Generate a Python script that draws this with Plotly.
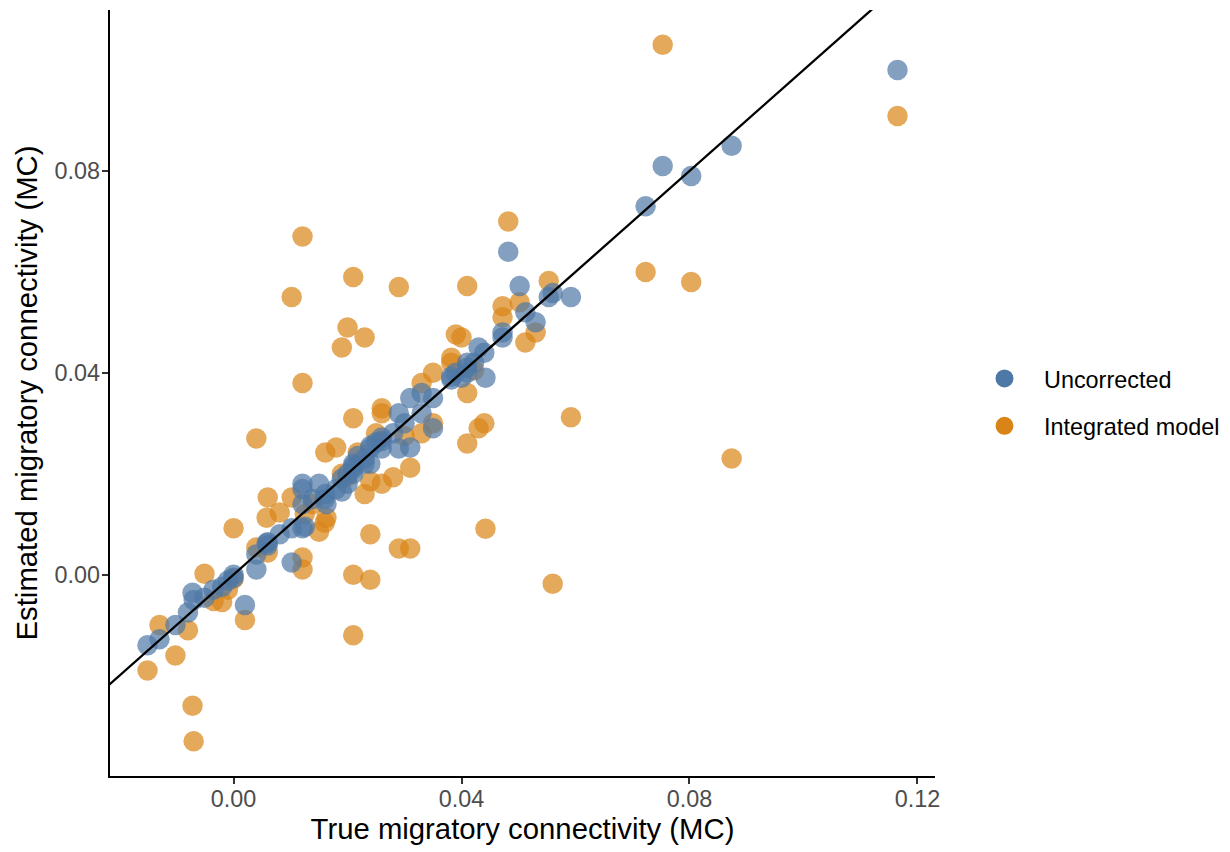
import plotly.graph_objects as go

# True migratory connectivity (x) shared by both estimates
true_mc = [
    -0.0151, -0.0130, -0.0102, -0.0080, -0.0072, -0.0070, -0.0051, -0.0035, -0.0020, -0.0010,
    0.0000, 0.0000, 0.0020, 0.0040, 0.0040, 0.0058, 0.0060, 0.0060, 0.0081, 0.0102,
    0.0102, 0.0121, 0.0121, 0.0121, 0.0121, 0.0125, 0.0139, 0.0150, 0.0160, 0.0161,
    0.0163, 0.0180, 0.0190, 0.0190, 0.0200, 0.0200, 0.0210, 0.0210, 0.0210, 0.0210,
    0.0218, 0.0230, 0.0230, 0.0240, 0.0240, 0.0240, 0.0250, 0.0260, 0.0260, 0.0260,
    0.0280, 0.0290, 0.0290, 0.0300, 0.0310, 0.0310, 0.0330, 0.0330, 0.0350, 0.0350,
    0.0382, 0.0382, 0.0390, 0.0400, 0.0410, 0.0410, 0.0410, 0.0422, 0.0430, 0.0440,
    0.0442, 0.0472, 0.0472, 0.0482, 0.0502, 0.0512, 0.0530, 0.0553, 0.0560, 0.0592,
    0.0723, 0.0753, 0.0803, 0.0874, 0.1165,
]

uncorrected = [
    -0.0140, -0.0128, -0.0100, -0.0075, -0.0036, -0.0050, -0.0046, -0.0030, -0.0024, -0.0012,
    -0.0006, 0.0000, -0.0060, 0.0010, 0.0040, 0.0062, 0.0064, 0.0058, 0.0080, 0.0024,
    0.0092, 0.0180, 0.0092, 0.0170, 0.0140, 0.0095, 0.0150, 0.0180, 0.0150, 0.0160,
    0.0140, 0.0170, 0.0190, 0.0165, 0.0180, 0.0200, 0.0210, 0.0220, 0.0200, 0.0215,
    0.0235, 0.0230, 0.0220, 0.0255, 0.0250, 0.0220, 0.0262, 0.0272, 0.0250, 0.0265,
    0.0280, 0.0320, 0.0250, 0.0300, 0.0350, 0.0252, 0.0360, 0.0320, 0.0290, 0.0350,
    0.0387, 0.0392, 0.0400, 0.0390, 0.0420, 0.0410, 0.0400, 0.0420, 0.0450, 0.0440,
    0.0390, 0.0480, 0.0470, 0.0640, 0.0572, 0.0520, 0.0500, 0.0550, 0.0558, 0.0550,
    0.0730, 0.0810, 0.0790, 0.0850, 0.1000,
]

integrated = [
    -0.0190, -0.0100, -0.0160, -0.0110, -0.0260, -0.0330, 0.0002, -0.0052, -0.0054, -0.0030,
    0.0092, -0.0008, -0.0090, 0.0054, 0.0270, 0.0113, 0.0153, 0.0044, 0.0123, 0.0550,
    0.0153, 0.0670, 0.0380, 0.0034, 0.0010, 0.0120, 0.0140, 0.0085, 0.0103, 0.0242,
    0.0113, 0.0252, 0.0450, 0.0200, 0.0490, 0.0195, 0.0590, 0.0310, 0.0000, -0.0120,
    0.0242, 0.0470, 0.0160, 0.0080, -0.0010, 0.0185, 0.0280, 0.0330, 0.0320, 0.0180,
    0.0193, 0.0570, 0.0052, 0.0275, 0.0052, 0.0212, 0.0380, 0.0280, 0.0300, 0.0400,
    0.0430, 0.0420, 0.0476, 0.0470, 0.0572, 0.0360, 0.0260, 0.0405, 0.0290, 0.0300,
    0.0091, 0.0532, 0.0510, 0.0700, 0.0540, 0.0460, 0.0480, 0.0582, -0.0018, 0.0312,
    0.0600, 0.1050, 0.0580, 0.0230, 0.0909,
]

series_names = ["Uncorrected", "Integrated model"]
series_colors = ["#4E78A5", "#D98416"]

x_ticks = [0.00, 0.04, 0.08, 0.12]
x_tick_labels = ["0.00", "0.04", "0.08", "0.12"]
y_ticks = [0.00, 0.04, 0.08]
y_tick_labels = ["0.00", "0.04", "0.08"]

x_title = "True migratory connectivity (MC)"
y_title = "Estimated migratory connectivity (MC)"


def expanded(values):
    lo, hi = min(values), max(values)
    pad = (hi - lo) * 0.05
    return [lo - pad, hi + pad]


x_range = expanded(true_mc)
y_range = expanded(uncorrected + integrated)

FONT = "Liberation Sans, Arial, Helvetica, sans-serif"

fig = go.Figure()

# points: integrated model first, uncorrected on top
fig.add_trace(go.Scatter(
    x=true_mc, y=integrated, mode="markers", showlegend=False,
    marker=dict(size=20.5, color=series_colors[1], opacity=0.7, line=dict(width=0)),
    hoverinfo="skip",
))
fig.add_trace(go.Scatter(
    x=true_mc, y=uncorrected, mode="markers", showlegend=False,
    marker=dict(size=20.5, color=series_colors[0], opacity=0.7, line=dict(width=0)),
    hoverinfo="skip",
))

# 1:1 reference line
line_span = [min(x_range[0], y_range[0]), max(x_range[1], y_range[1])]
fig.add_trace(go.Scatter(
    x=line_span, y=line_span, mode="lines", showlegend=False,
    line=dict(color="black", width=2.3), hoverinfo="skip",
))

# legend entries (opaque keys)
for i, (name, col) in enumerate(zip(series_names, series_colors)):
    fig.add_trace(go.Scatter(
        x=[None], y=[None], mode="markers", name="\u00a0\u00a0\u00a0" + name,
        legendgroup=f"g{i}",
        marker=dict(size=20, color=col, line=dict(width=2, color=col)),
    ))

axis_common = dict(
    showgrid=False, zeroline=False,
    showline=True, linecolor="black", linewidth=2.4,
    ticks="outside", ticklen=6, tickwidth=2, tickcolor="#333333",
    tickfont=dict(family=FONT, size=23.4, color="#4D4D4D"),
    title_font=dict(family=FONT, size=29.3, color="black"),
    mirror=False,
)

fig.update_layout(
    width=1222, height=844,
    paper_bgcolor="white", plot_bgcolor="white",
    margin=dict(l=102, r=295, t=2, b=76),
    font=dict(family=FONT),
    xaxis=dict(range=x_range, tickvals=x_ticks, ticktext=x_tick_labels,
               ticklabelstandoff=-5,
               title=dict(text=x_title, standoff=4), **axis_common),
    yaxis=dict(range=y_range, tickvals=y_ticks, ticktext=y_tick_labels,
               ticklabelstandoff=-3,
               title=dict(text=y_title, standoff=8), **axis_common),
    legend=dict(
        x=1.06, xanchor="left", y=0.488, yanchor="middle",
        font=dict(family=FONT, size=23.4, color="black"),
        tracegroupgap=14, bgcolor="rgba(0,0,0,0)",
    ),
)

fig.write_html("out.html")
